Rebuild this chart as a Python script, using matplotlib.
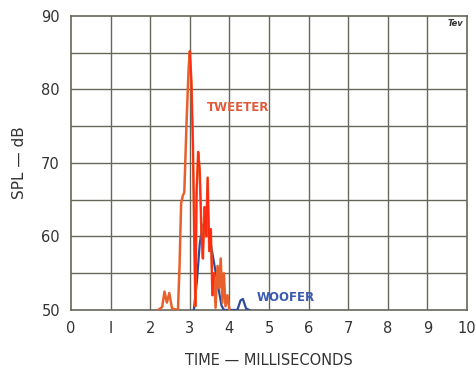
import matplotlib.pyplot as plt

# tweeter trace (time in ms, SPL in dB)
tweeter_t = [2.2, 2.3, 2.36, 2.42, 2.48, 2.55, 2.7, 2.74, 2.78, 2.82, 2.86,
             2.92, 2.97, 3.0, 3.04, 3.08, 3.11, 3.14, 3.17, 3.21, 3.25, 3.29,
             3.33, 3.37, 3.41, 3.45, 3.49, 3.53, 3.57, 3.61, 3.65, 3.7, 3.74,
             3.78, 3.82, 3.86, 3.9, 3.95, 4.0]
tweeter_db = [50.0, 50.4, 52.5, 51.0, 52.3, 50.2, 50.0, 56.0, 64.5, 65.5, 66.0,
              76.0, 83.0, 85.2, 81.0, 72.0, 60.0, 50.5, 66.0, 71.5, 69.0, 61.0,
              57.0, 64.0, 60.0, 68.0, 58.0, 61.0, 52.0, 55.0, 50.3, 56.0, 53.0,
              57.0, 51.0, 55.0, 50.5, 52.0, 50.0]

# woofer trace
woofer_t = [3.1, 3.18, 3.25, 3.32, 3.4, 3.48, 3.56, 3.64, 3.72, 3.8, 3.86,
            4.2, 4.28, 4.34, 4.42, 4.5]
woofer_db = [50.0, 54.0, 59.0, 61.5, 62.0, 60.5, 58.0, 55.5, 53.0, 50.6, 50.0,
             50.0, 51.3, 51.5, 50.2, 50.0]

x_ticks = [0, 1, 2, 3, 4, 5, 6, 7, 8, 9, 10]
x_tick_labels = ['0', 'I', '2', '3', '4', '5', '6', '7', '8', '9', '10']
y_ticks = [50, 60, 70, 80, 90]

fig = plt.figure(figsize=(4.77, 3.69), dpi=100)
ax = fig.add_axes([0.149, 0.160, 0.830, 0.797])

grid_col = '#66665a'
ax.set_xlim(0, 10)
ax.set_ylim(50, 90)
for x in range(1, 10):
    ax.axvline(x, color=grid_col, lw=1.0, zorder=1)
for y in range(55, 90, 5):
    ax.axhline(y, color=grid_col, lw=1.0, zorder=1)
for s in ax.spines.values():
    s.set_color(grid_col)
    s.set_linewidth(1.2)

ax.plot(woofer_t, woofer_db, color='#2c4c9c', lw=1.6, zorder=3)
ax.plot(tweeter_t, tweeter_db, color='#e8602c', lw=1.8, zorder=4)
ax.plot(tweeter_t[13:30], tweeter_db[13:30], color='#ff2a10', lw=1.2, zorder=5)

ax.set_xticks(x_ticks)
ax.set_xticklabels(x_tick_labels)
ax.set_yticks(y_ticks)
ax.tick_params(length=0, labelsize=10.5, colors='#333333', pad=8)

ax.text(3.42, 77.0, 'TWEETER', color='#e05a3a', fontsize=8.5, fontweight='bold', zorder=6)
ax.text(4.68, 51.2, 'WOOFER', color='#3a5ab0', fontsize=8.5, fontweight='bold', zorder=6)
ax.text(9.5, 88.6, 'Tev', color='#333333', fontsize=6, fontweight='bold',
        fontstyle='italic', zorder=6)

ax.set_xlabel('TIME — MILLISECONDS', fontsize=10.5, color='#333333', labelpad=12)
ax.set_ylabel('SPL — dB', fontsize=11, color='#333333', labelpad=10)

fig.savefig('out.png', dpi=100)
